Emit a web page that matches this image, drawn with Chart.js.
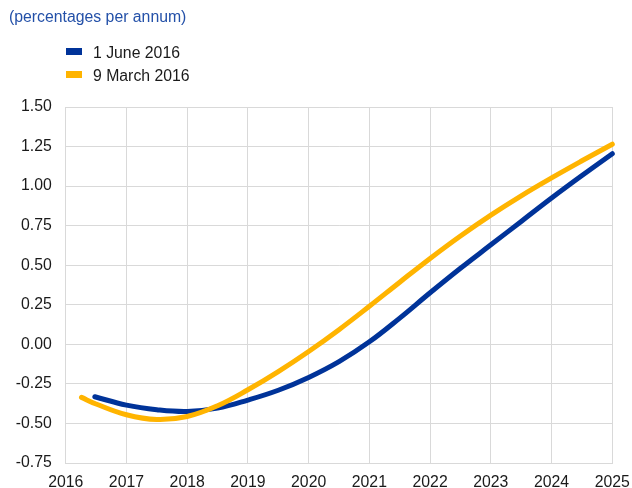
<!DOCTYPE html>
<html>
<head>
<meta charset="utf-8">
<script src="https://cdn.jsdelivr.net/npm/chart.js@4"></script>
<style>
  body { margin: 0; background: #fff; font-family: Arial, "Liberation Sans", sans-serif; overflow: hidden; }
  #wrap { position: relative; width: 632px; height: 488px; }
  #title { position: absolute; left: 9px; top: 8px; font-size: 15.8px; color: #2350a8; }
  #legend { position: absolute; left: 66px; top: 42px; font-size: 15.8px; color: #1a1a1a; }
  .item { height: 22.5px; line-height: 22px; white-space: nowrap; }
  .box { display: inline-block; width: 16px; height: 7px; margin-right: 11px; vertical-align: 3px; }
  canvas { position: absolute; left: 0; top: 0; }
</style>
</head>
<body>
<div id="wrap">
  <canvas id="myChart" width="632" height="488"></canvas>
  <div id="title">(percentages per annum)</div>
  <div id="legend"></div>
</div>
<script>
// forward curves, x = year, y = percentages per annum
var juneLabel = '1 June 2016';
var juneYears = [2016.48, 2017, 2017.5, 2018, 2018.5, 2019, 2019.5, 2020, 2020.5, 2021, 2021.5, 2022, 2022.5, 2023, 2023.5, 2024, 2024.5, 2025];
var juneValues = [-0.331, -0.384, -0.413, -0.424, -0.403, -0.352, -0.29, -0.209, -0.109, 0.016, 0.166, 0.326, 0.481, 0.629, 0.777, 0.925, 1.067, 1.205];

var marchLabel = '9 March 2016';
var marchYears = [2016.26, 2016.5, 2017, 2017.5, 2018, 2018.5, 2019, 2019.5, 2020, 2020.5, 2021, 2021.5, 2022, 2022.5, 2023, 2023.5, 2024, 2024.5, 2025];
var marchValues = [-0.335, -0.377, -0.445, -0.475, -0.456, -0.388, -0.287, -0.172, -0.045, 0.093, 0.241, 0.393, 0.543, 0.685, 0.817, 0.939, 1.052, 1.16, 1.265];

var yearTicks = [2016, 2017, 2018, 2019, 2020, 2021, 2022, 2023, 2024, 2025];

var blue = '#003399';
var yellow = '#ffb400';
var tickFont = { family: 'Arial, "Liberation Sans"', size: 15.8 };

function toPoints(xs, ys) {
    return xs.map(function (x, i) { return { x: x, y: ys[i] }; });
}

var ctx = document.getElementById('myChart').getContext('2d');
var chart = new Chart(ctx, {
    type: 'line',
    data: {
        datasets: [{
            label: juneLabel,
            data: toPoints(juneYears, juneValues),
            borderColor: blue,
            backgroundColor: blue,
            borderWidth: 5,
            pointRadius: 0,
            tension: 0.4,
            borderCapStyle: 'round',
            clip: false,
            order: 2
        }, {
            label: marchLabel,
            data: toPoints(marchYears, marchValues),
            borderColor: yellow,
            backgroundColor: yellow,
            borderWidth: 5,
            pointRadius: 0,
            tension: 0.4,
            borderCapStyle: 'round',
            clip: false,
            order: 1
        }]
    },
    options: {
        responsive: false,
        animation: false,
        layout: { padding: { top: 107, left: 1.7, right: 0, bottom: -14 } },
        plugins: {
            legend: { display: false },
            tooltip: { enabled: false }
        },
        scales: {
            x: {
                type: 'linear',
                min: 2016,
                max: 2025,
                afterBuildTicks: function (axis) {
                    axis.ticks = yearTicks.map(function (v) { return { value: v }; });
                },
                // last label only needs its half width on the right
                afterFit: function (axis) {
                    axis.paddingRight = 19.7;
                    axis.paddingLeft = 0;
                },
                grid: { color: '#d9d9d9', drawTicks: false },
                border: { color: '#d9d9d9' },
                ticks: {
                    padding: 10,
                    color: '#1a1a1a',
                    font: tickFont,
                    maxRotation: 0,
                    callback: function (v) { return String(v); }
                }
            },
            y: {
                min: -0.75,
                max: 1.5,
                grid: { color: '#d9d9d9', drawTicks: false },
                border: { color: '#d9d9d9' },
                ticks: {
                    stepSize: 0.25,
                    padding: 14,
                    color: '#1a1a1a',
                    font: tickFont,
                    callback: function (v) { return v.toFixed(2); }
                }
            }
        }
    }
});

// legend as html, built from the datasets
var legend = document.getElementById('legend');
chart.data.datasets.forEach(function (ds) {
    var row = document.createElement('div');
    row.className = 'item';
    var box = document.createElement('span');
    box.className = 'box';
    box.style.background = ds.borderColor;
    row.appendChild(box);
    row.appendChild(document.createTextNode(ds.label));
    legend.appendChild(row);
});
</script>
</body>
</html>
